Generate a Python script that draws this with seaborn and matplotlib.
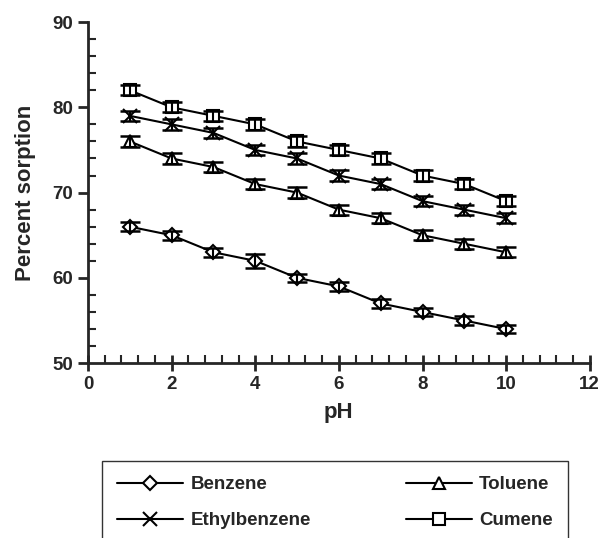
import numpy as np
import pandas as pd
import matplotlib
matplotlib.use("Agg")
import matplotlib.pyplot as plt
from matplotlib.ticker import MultipleLocator
import seaborn as sns

ph = [1, 2, 3, 4, 5, 6, 7, 8, 9, 10]
benzene = [66, 65, 63, 62, 60, 59, 57, 56, 55, 54]
toluene = [76, 74, 73, 71, 70, 68, 67, 65, 64, 63]
ethylbenzene = [79, 78, 77, 75, 74, 72, 71, 69, 68, 67]
cumene = [82, 80, 79, 78, 76, 75, 74, 72, 71, 69]
err_benzene = [0.5, 0.5, 0.5, 0.8, 0.5, 0.5, 0.5, 0.5, 0.5, 0.5]
err_other = [0.6] * 10

series = [
    ("Benzene", benzene, err_benzene, "D", 7),
    ("Toluene", toluene, err_other, "^", 9),
    ("Ethylbenzene", ethylbenzene, err_other, "x", 10),
    ("Cumene", cumene, err_other, "s", 8),
]

sns.set_style("ticks")
plt.rcParams["font.family"] = ["Liberation Sans", "DejaVu Sans"]
plt.rcParams["font.weight"] = "bold"

fig = plt.figure(figsize=(6.03, 5.38), dpi=100)
ax = fig.add_axes([0.146, 0.325, 0.832, 0.634])

for name, vals, err, mk, ms in series:
    df = pd.DataFrame({"pH": ph, "sorption": vals})
    ax.errorbar(ph, vals, yerr=err, fmt="none", ecolor="black",
                elinewidth=1.5, capsize=7, capthick=1.8, zorder=3)
    sns.lineplot(data=df, x="pH", y="sorption", ax=ax, color="black",
                 linewidth=1.5, marker=mk, markersize=ms,
                 markerfacecolor="white", markeredgecolor="black",
                 markeredgewidth=1.5, label=name, zorder=2)

ax.set_xlim(0, 12)
ax.set_ylim(50, 90)
ax.xaxis.set_major_locator(MultipleLocator(2))
ax.xaxis.set_minor_locator(MultipleLocator(0.4))
ax.yaxis.set_major_locator(MultipleLocator(10))
ax.yaxis.set_minor_locator(MultipleLocator(2))

sns.despine(ax=ax)
for sp in ["left", "bottom"]:
    ax.spines[sp].set_linewidth(2)
ax.tick_params(axis="y", which="major", direction="out", length=7, width=2,
               labelsize=13.5)
ax.tick_params(axis="y", which="minor", direction="in", length=6, width=1.5)
ax.tick_params(axis="x", which="major", direction="inout", length=12, width=2,
               labelsize=13.5)
ax.tick_params(axis="x", which="minor", direction="in", length=6, width=1.5)
for lab in ax.get_xticklabels() + ax.get_yticklabels():
    lab.set_fontweight("bold")

ax.set_xlabel("pH", fontsize=16, fontweight="bold", labelpad=6)
ax.set_ylabel("Percent sorption", fontsize=16, fontweight="bold", labelpad=12)

handles, labels = ax.get_legend_handles_labels()
ax.get_legend().remove()
# column-wise fill: row 1 Benzene / Toluene, row 2 Ethylbenzene / Cumene
order = [0, 2, 1, 3]
leg = fig.legend([handles[i] for i in order], [labels[i] for i in order],
                 loc="upper left", bbox_to_anchor=(0.154, 0.16, 0.803, 0),
                 mode="expand", ncol=2, frameon=True, fancybox=False,
                 edgecolor="black", handlelength=3.5, handletextpad=0.4,
                 labelspacing=1.0, borderpad=0.8,
                 prop={"weight": "bold", "size": 13.5})
leg.get_frame().set_linewidth(1.0)

fig.savefig("out.png", dpi=100)
